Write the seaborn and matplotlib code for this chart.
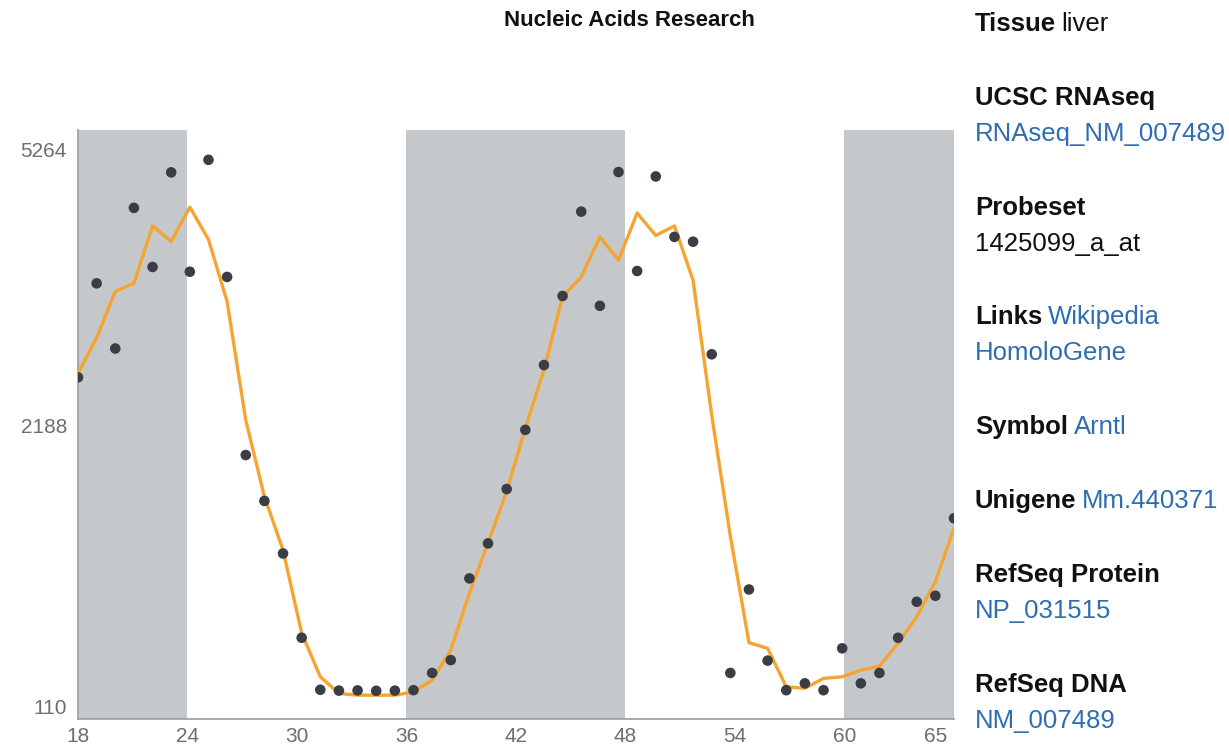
import numpy as np
import pandas as pd
import matplotlib.pyplot as plt
import seaborn as sns

# circadian expression of Arntl in liver
hours = list(range(18, 66))
expression = [2671, 3681, 2971, 4556, 3866, 4986, 3812, 5140, 3753, 1912,
              1500, 1066, 471, 185, 181, 182, 180, 181, 183, 269,
              339, 876, 1146, 1604, 2150, 2798, 3540, 4511, 3431, 4990,
              3820, 4936, 4213, 4157, 2910, 269, 795, 336, 183, 216,
              183, 407, 216, 269, 471, 708, 750, 1352]
fitted = [2714, 3085, 3591, 3681, 4342, 4160, 4565, 4183, 3478, 2245,
          1538, 1093, 500, 249, 168, 160, 160, 160, 175, 232,
          397, 769, 1149, 1581, 2168, 2746, 3533, 3753, 4213, 3945,
          4494, 4229, 4342, 3716, 2294, 1205, 441, 407, 199, 192,
          241, 249, 284, 306, 437, 606, 851, 1272]
dark_phases = [(18, 24), (36, 48), (60, 66)]
x_ticks = [18, 24, 30, 36, 42, 48, 54, 60, 65]
y_ticks = [110, 2188, 5264]

info_labels = ["Tissue", "UCSC RNAseq", "Probeset", "Links", "Symbol",
               "Unigene", "RefSeq Protein", "RefSeq DNA"]
info_inline = ["liver", "", "", "Wikipedia", "Arntl", "Mm.440371", "", ""]
info_below = ["", "RNAseq_NM_007489", "1425099_a_at", "HomoloGene", "", "",
              "NP_031515", "NM_007489"]
plain_values = ["liver", "1425099_a_at"]

W, H = 1229, 747
LINK = "#2f6db3"
ORANGE = "#f6a431"
DOT = "#3a3d43"
BAND = "#c5c8cb"
PANEL_SIZE = 18.5

sns.set_style("white")
plt.rcParams["font.family"] = ["Liberation Sans", "DejaVu Sans"]

df = pd.DataFrame({"hour": hours, "expression": expression, "fitted": fitted})

fig = plt.figure(figsize=(W / 100, H / 100), dpi=100)
ax = fig.add_axes([78 / W, (H - 719) / H, 876 / W, 589 / H])

p = 0.71
ax.set_yscale("function", functions=(lambda v: np.power(np.maximum(v, 0), p),
                                     lambda t: np.power(np.maximum(t, 0), 1 / p)))
ax.set_ylim(64, 5513)
ax.set_xlim(18, 66)

for a, b in dark_phases:
    ax.axvspan(a, b, color=BAND, lw=0, zorder=0)

ax.set_xticks(x_ticks)
ax.set_xticklabels([str(t) for t in x_ticks])
ax.set_yticks(y_ticks)
ax.set_yticklabels([str(t) for t in y_ticks])
ax.yaxis.set_minor_locator(plt.NullLocator())
ax.tick_params(axis="x", length=0, pad=6, labelsize=15, colors="#6e6e6e")
ax.tick_params(axis="y", length=5, width=1.2, pad=3, labelsize=15,
               colors="#9a9da0", labelcolor="#6e6e6e", direction="out")
for side in ["top", "right"]:
    ax.spines[side].set_visible(False)
for side in ["left", "bottom"]:
    ax.spines[side].set_color("#9a9da0")
    ax.spines[side].set_linewidth(1.2)
ax.set_xlabel("")
ax.set_ylabel("")

# data axis: samples CT18..CT65 span the full width
ax2 = ax.twiny()
ax2.set_xlim(18, 65)
sns.lineplot(data=df, x="hour", y="fitted", ax=ax2, color=ORANGE, lw=2.4, zorder=2)
sns.scatterplot(data=df, x="hour", y="expression", ax=ax2, color=DOT, s=58,
                edgecolor="none", zorder=3)
ax2.set_xticks([])
for s in ax2.spines.values():
    s.set_visible(False)
ax2.set_xlabel("")
ax2.set_ylabel("")
ax.set_ylim(64, 5513)

fig.text(629 / W, 1 - 20 / H, "Nucleic Acids Research", ha="center", va="center",
         fontsize=16, fontweight="bold", color="#111111")

# gene info panel
row_y = [24, 98, 208, 317, 427, 501, 575, 685]
below_gap = 36
x0 = 975 / W
for label, inline, below, y in zip(info_labels, info_inline, info_below, row_y):
    t = fig.text(x0, 1 - y / H, label, ha="left", va="center", fontsize=PANEL_SIZE,
                 fontweight="bold", color="#111111")
    if inline:
        c = "#111111" if inline in plain_values else LINK
        fig.add_artist(plt.Annotation(inline, xy=(1, 0.5), xycoords=t,
                                      xytext=(4, 0), textcoords="offset points",
                                      ha="left", va="center", fontsize=PANEL_SIZE,
                                      color=c))
    if below:
        c = "#111111" if below in plain_values else LINK
        fig.text(x0, 1 - (y + below_gap) / H, below, ha="left", va="center",
                 fontsize=PANEL_SIZE, color=c)

fig.savefig("out.png", dpi=100)
